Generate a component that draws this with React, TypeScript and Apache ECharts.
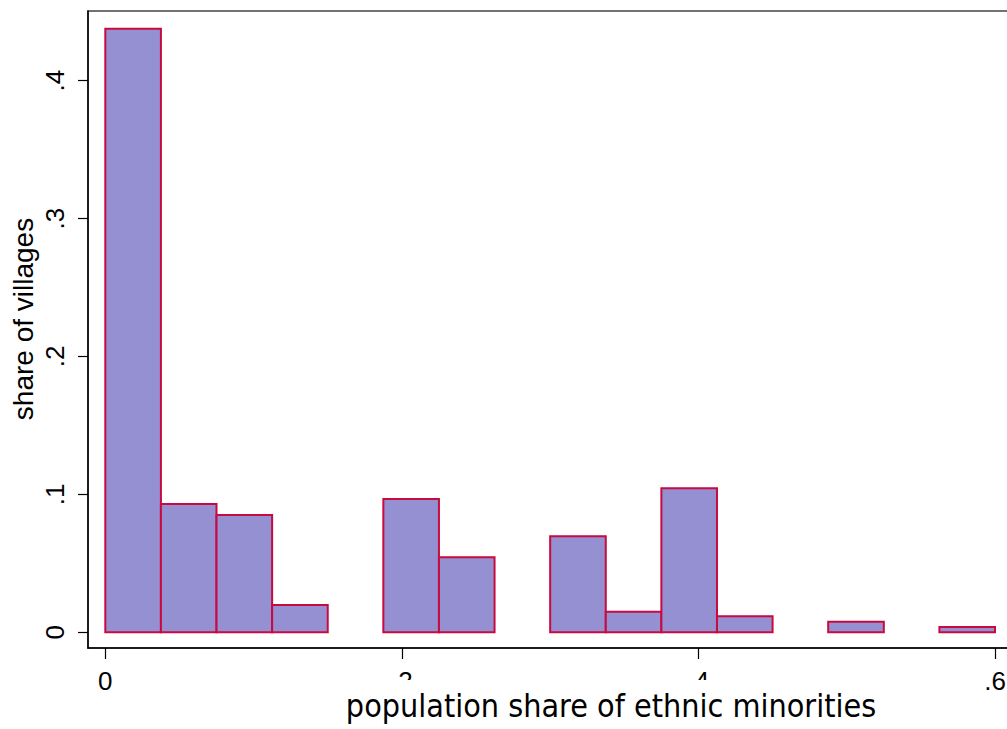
import React, { useEffect, useRef } from "react";
import * as echarts from "echarts";

const binStarts = [0, 0.0375, 0.075, 0.1125, 0.15, 0.1875, 0.225, 0.2625, 0.3, 0.3375, 0.375, 0.4125, 0.45, 0.4875, 0.525, 0.5625];
const binWidth = 0.0375;
const shares = [0.4377, 0.093, 0.0851, 0.0198, 0, 0.0967, 0.0544, 0, 0.0696, 0.0149, 0.1044, 0.0116, 0, 0.0077, 0, 0.0038];
const xTicks = [0, 0.2, 0.4, 0.6];
const yTicks = [0, 0.1, 0.2, 0.3, 0.4];
const xTitle = "population share of ethnic minorities";
const yTitle = "share of villages";

const fmt = (v: number) => (v === 0 ? "0" : String(Math.round(v * 10) / 10).replace(/^0/, ""));

export default function App() {
  const ref = useRef<HTMLDivElement>(null);
  useEffect(() => {
    if (!ref.current) return;
    const chart = echarts.init(ref.current, null, { renderer: "svg" });
    const data = binStarts
      .map((s, i) => [s, s + binWidth, shares[i]])
      .filter((d) => d[2] > 0);
    chart.setOption({
      animation: false,
      backgroundColor: "#fff",
      grid: {
        left: 88,
        top: 11,
        width: 930,
        height: 637,
        containLabel: false,
        outerBoundsMode: "none",
        show: true,
        borderColor: "#444",
        borderWidth: 1.5,
        backgroundColor: "transparent",
      },
      xAxis: {
        type: "value",
        min: -0.01167,
        max: 0.6155,
        splitLine: { show: false },
        axisLine: { show: true, onZero: false, lineStyle: { color: "#000", width: 1.5 } },
        axisTick: { show: true, customValues: xTicks, length: 11, lineStyle: { color: "#000", width: 1.2 } },
        axisLabel: {
          customValues: xTicks,
          formatter: fmt,
          margin: 20,
          fontFamily: "Liberation Sans",
          fontSize: 26,
          color: "#000",
        },
      },
      yAxis: {
        type: "value",
        min: -0.01139,
        max: 0.4505,
        splitLine: { show: false },
        axisLine: { show: true, onZero: false, lineStyle: { color: "#000", width: 1.5 } },
        axisTick: { show: true, customValues: yTicks, length: 10, lineStyle: { color: "#000", width: 1.2 } },
        axisLabel: {
          customValues: yTicks,
          formatter: fmt,
          rotate: 90,
          margin: 20,
          fontFamily: "Liberation Sans",
          fontSize: 26,
          color: "#000",
        },
      },
      graphic: [
        {
          type: "text",
          z: 101,
          x: 23,
          y: 319,
          rotation: Math.PI / 2,
          style: {
            text: yTitle,
            align: "center",
            verticalAlign: "middle",
            fontFamily: "Liberation Sans",
            fontSize: 28,
            fill: "#000",
          },
        },
        { type: "rect", z: 100, shape: { x: 338, y: 680, width: 548, height: 49 }, style: { fill: "#fff" } },
        {
          type: "text",
          z: 101,
          x: 611,
          y: 706,
          style: {
            text: xTitle,
            align: "center",
            verticalAlign: "middle",
            fontFamily: "DejaVu Sans Condensed",
            fontSize: 32,
            fill: "#000",
          },
        },
      ],
      series: [
        {
          type: "custom",
          data,
          encode: { x: [0, 1], y: 2 },
          renderItem: (params: any, api: any) => {
            const p0 = api.coord([api.value(0), 0]);
            const p1 = api.coord([api.value(1), api.value(2)]);
            return {
              type: "rect",
              shape: { x: p0[0], y: p1[1], width: p1[0] - p0[0], height: p0[1] - p1[1] },
              style: { fill: "#9590d1", stroke: "#c80a40", lineWidth: 2 },
            };
          },
        },
      ],
    });
    return () => chart.dispose();
  }, []);
  return <div ref={ref} style={{ position: "absolute", left: 0, top: 0, width: 1007, height: 729 }} />;
}
